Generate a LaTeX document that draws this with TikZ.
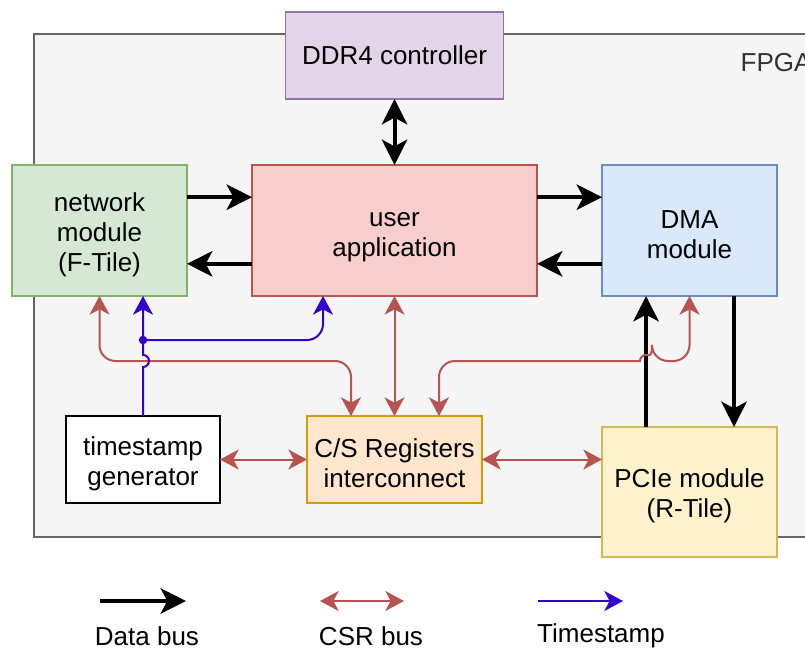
\documentclass[tikz,border=0pt]{standalone}
\usepackage{fontspec}
\setmainfont{Liberation Sans}
\usetikzlibrary{arrows.meta,calc}

\definecolor{fpgafill}{HTML}{F5F5F5}
\definecolor{fpgaline}{HTML}{666666}
\definecolor{ddrfill}{HTML}{E1D5E7}
\definecolor{ddrline}{HTML}{9673A6}
\definecolor{netfill}{HTML}{D5E8D4}
\definecolor{netline}{HTML}{82B366}
\definecolor{userfill}{HTML}{F8CECC}
\definecolor{userline}{HTML}{B85450}
\definecolor{dmafill}{HTML}{DAE8FC}
\definecolor{dmaline}{HTML}{6C8EBF}
\definecolor{csrfill}{HTML}{FFE6CC}
\definecolor{csrline}{HTML}{D79B00}
\definecolor{pciefill}{HTML}{FFF2CC}
\definecolor{pcieline}{HTML}{D6B656}
\definecolor{csrred}{HTML}{B85450}
\definecolor{stampblue}{HTML}{3300CC}

\newcommand\tstrut{\rule{0pt}{20pt}}

\tikzset{
  datatip/.tip={Stealth[length=19pt,width=19pt,inset=5pt]},
  csrtip/.tip={Stealth[length=14pt,width=15pt,inset=4pt]},
  block/.style={draw, line width=1.2pt, inner sep=0pt, outer sep=0pt, align=center},
  data/.style={line width=3pt, -datatip},
  bothdata/.style={line width=3pt, datatip-datatip},
  csrbus/.style={csrred, line width=1.5pt, csrtip-csrtip},
  stamp/.style={stampblue, line width=1.5pt, -csrtip}
}

\begin{document}
\begin{tikzpicture}[x=0.75pt,y=-0.75pt,font=\fontsize{19.5}{22.5}\selectfont]

  \useasboundingbox (0,0) rectangle (805,649);
  \clip (0,0) rectangle (805,649);

  \fill[white] (0,0) rectangle (805,649);
  \draw[fill=fpgafill, draw=fpgaline, line width=1.5pt] (34,34) rectangle (840,537);
  \node[anchor=west, text=black!80] (fpga) at (736,63) {FPGA};

  \begin{scope}[every node/.style={block, minimum width=131.25pt}]
    \node[fill=ddrfill, draw=ddrline, minimum width=163.5pt, minimum height=65.25pt] (ddr) at (394.5,55.5) {DDR4 controller};
    \node[fill=netfill, draw=netline, minimum height=98.25pt] (net) at (99.5,230.5) {\tstrut network\\module\\(F-Tile)};
    \node[fill=userfill, draw=userline, minimum width=213.75pt, minimum height=98.25pt] (user) at (394.5,230.5) {\tstrut user\\application};
    \node[fill=dmafill, draw=dmaline, minimum height=98.25pt] (dma) at (689.5,230.5) {\tstrut DMA\\module};
    \node[fill=white, draw=black, minimum width=115.5pt, minimum height=65.25pt] (ts) at (143,459.5) {\tstrut timestamp\\generator};
    \node[fill=csrfill, draw=csrline, minimum height=65.25pt] (csr) at (394.5,459.5) {\tstrut C/S Registers\\interconnect};
    \node[fill=pciefill, draw=pcieline, minimum height=97.5pt] (pcie) at (689.5,492) {\tstrut PCIe module\\(R-Tile)};
  \end{scope}

  \draw[bothdata] (ddr.south) -- (user.north);
  \draw[data] ([yshift=25pt]net.east) -- ([yshift=25pt]user.west);
  \draw[data] ([yshift=-25pt]user.west) -- ([yshift=-25pt]net.east);
  \draw[data] ([yshift=25pt]user.east) -- ([yshift=25pt]dma.west);
  \draw[data] ([yshift=-25pt]dma.west) -- ([yshift=-25pt]user.east);
  \draw[data] ([xshift=-32.6pt]pcie.north) -- ([xshift=-32.6pt]dma.south);
  \draw[data] ([xshift=33.4pt]dma.south) -- ([xshift=33.4pt]pcie.north);

  \coordinate (jr) at ($(pcie.north)+(-43.5,-66)$);
  \draw[csrbus] (ts.east) -- (csr.west);
  \draw[csrbus] (csr.east) -- (csr.east -| pcie.west);
  \draw[csrbus] (user.south) -- (csr.north);
  \draw[csrbus, rounded corners=12] (net.south) |- ($(csr.north)+(-43.5,-55)$) -- ($(csr.north)+(-43.5,0)$);
  \draw[csrbus] (dma.south) [rounded corners=12] |- ($(jr)+(6,0)$) [sharp corners]
    arc[start angle=0, end angle=180, radius=4.5pt] [rounded corners=12] -| ($(csr.north)+(44.5,0)$);

  \coordinate (tap) at ($(net.south)+(43.5,44)$);
  \draw[stamp] (ts.north) -- ++(0,-49) arc[start angle=-90, end angle=90, radius=4.5pt] -- ($(net.south)+(43.5,0)$);
  \draw[stamp, rounded corners=12] (tap) -| ($(user.south)+(-71.5,0)$);
  \fill[stampblue] (tap) circle (3.2pt);

  \node (ldata) at (147,636) {Data bus};
  \node (lcsr) at (371,636) {CSR bus};
  \node (lstamp) at (601,636) {Timestamp};
  \draw[data] ($(ldata)+(-47,-35)$) -- ($(ldata)+(39,-35)$);
  \draw[csrbus] ($(lcsr)+(-51,-35)$) -- ($(lcsr)+(33,-35)$);
  \draw[stamp] ($(lstamp)+(-63,-35)$) -- ($(lstamp)+(22,-35)$);

\end{tikzpicture}
\end{document}
